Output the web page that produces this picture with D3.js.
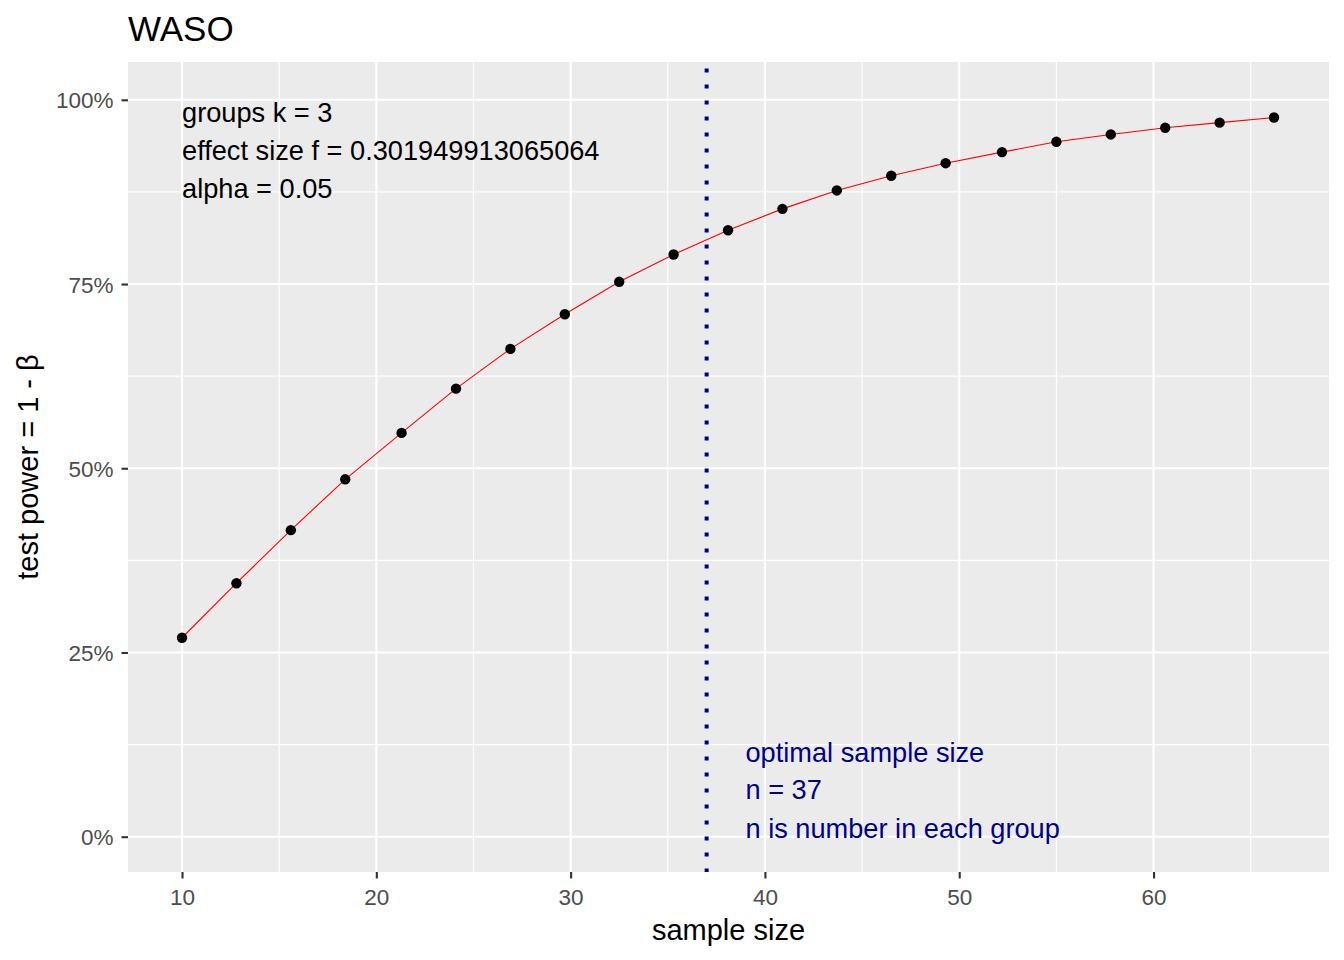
<!DOCTYPE html>
<html>
<head>
<meta charset="utf-8" />
<title>WASO power curve</title>
<script src="https://d3js.org/d3.v7.min.js" charset="utf-8"></script>
<style>
    body { margin: 0; background: #fff; font-family: "Liberation Sans", Arial, sans-serif; }
    .grid-major line { stroke: #fff; stroke-width: 2.1; }
    .grid-minor line { stroke: #fff; stroke-width: 1.1; }
    .axis path { display: none; }
    .axis line { stroke: #333; stroke-width: 2.1; }
    .axis text { fill: #4d4d4d; font-size: 22.5px; font-family: "Liberation Sans", Arial, sans-serif; }
</style>
</head>
<body>
<div id="graphic"></div>
<script>
    // sample size per group
    var sampleSize = [10, 12.8, 15.6, 18.4, 21.3, 24.1, 26.9, 29.7, 32.5, 35.3, 38.1,
                      40.9, 43.7, 46.5, 49.3, 52.2, 55.0, 57.8, 60.6, 63.4, 66.2];
    // power (1 - beta)
    var power = [0.270, 0.344, 0.416, 0.485, 0.548, 0.608, 0.662, 0.709, 0.753, 0.790, 0.823,
                 0.852, 0.877, 0.897, 0.914, 0.929, 0.943, 0.953, 0.962, 0.969, 0.976];
    var xTicks = [10, 20, 30, 40, 50, 60];
    var xMinor = [15, 25, 35, 45, 55, 65];
    var yTicks = [0, 0.25, 0.5, 0.75, 1];
    var yMinor = [0.125, 0.375, 0.625, 0.875];
    var optimalN = 37;
    var infoLines = ["groups k = 3", "effect size f = 0.301949913065064", "alpha = 0.05"];
    var infoY = [0.983, 0.932, 0.880];
    var optLines = ["optimal sample size", "n = 37", "n is number in each group"];
    var optY = [0.115, 0.064, 0.011];

    var data = sampleSize.map(function (d, i) { return { n: d, p: power[i] }; });

    var W = 1344, H = 960;
    var margin = { top: 62, right: 15, bottom: 88, left: 128 };
    var width = W - margin.left - margin.right,
        height = H - margin.top - margin.bottom;

    var svg = d3.select("#graphic").append("svg")
        .attr("width", W)
        .attr("height", H);

    var g = svg.append("g")
        .attr("transform", "translate(" + margin.left + "," + margin.top + ")");

    var x = d3.scaleLinear().domain([7.22, 69.03]).range([0, width]);
    var y = d3.scaleLinear().domain([-0.0479, 1.0513]).range([height, 0]);

    // panel
    g.append("rect").attr("width", width).attr("height", height).attr("fill", "#ebebeb");

    var gm = g.append("g").attr("class", "grid-minor");
    gm.selectAll(".vx").data(xMinor).enter().append("line")
        .attr("x1", x).attr("x2", x).attr("y1", 0).attr("y2", height);
    gm.selectAll(".hy").data(yMinor).enter().append("line")
        .attr("y1", y).attr("y2", y).attr("x1", 0).attr("x2", width);

    var gM = g.append("g").attr("class", "grid-major");
    gM.selectAll(".vx").data(xTicks).enter().append("line")
        .attr("x1", x).attr("x2", x).attr("y1", 0).attr("y2", height);
    gM.selectAll(".hy").data(yTicks).enter().append("line")
        .attr("y1", y).attr("y2", y).attr("x1", 0).attr("x2", width);

    // axes
    g.append("g").attr("class", "axis")
        .attr("transform", "translate(0," + height + ")")
        .call(d3.axisBottom(x).tickValues(xTicks).tickSize(6.5).tickPadding(5))
        .selectAll("text").attr("dy", "0.95em");

    g.append("g").attr("class", "axis")
        .call(d3.axisLeft(y).tickValues(yTicks).tickSize(6.5).tickPadding(8)
            .tickFormat(d3.format(".0%")))
        .selectAll("text").attr("dy", "0.36em");

    // curve
    var line = d3.line().x(function (d) { return x(d.n); }).y(function (d) { return y(d.p); });
    g.append("path").datum(data)
        .attr("d", line)
        .attr("fill", "none")
        .attr("stroke", "red")
        .attr("stroke-width", 1.1);

    g.selectAll(".pt").data(data).enter().append("circle")
        .attr("cx", function (d) { return x(d.n); })
        .attr("cy", function (d) { return y(d.p); })
        .attr("r", 5.2)
        .attr("fill", "#000");

    // optimal n line
    g.append("line")
        .attr("x1", x(optimalN)).attr("x2", x(optimalN))
        .attr("y1", 6.5).attr("y2", height)
        .attr("stroke", "#00008b")
        .attr("stroke-width", 4)
        .attr("stroke-dasharray", "4,12");

    // annotations
    g.selectAll(".info").data(infoLines).enter().append("text")
        .attr("x", x(10))
        .attr("y", function (d, i) { return y(infoY[i]); })
        .attr("dy", "0.36em")
        .style("font-size", "27.2px")
        .attr("fill", "#000")
        .text(function (d) { return d; });

    g.selectAll(".opt").data(optLines).enter().append("text")
        .attr("x", x(39))
        .attr("y", function (d, i) { return y(optY[i]); })
        .attr("dy", "0.36em")
        .style("font-size", "27.2px")
        .attr("fill", "#00008b")
        .text(function (d) { return d; });

    // titles
    svg.append("text")
        .attr("x", margin.left)
        .attr("y", 41)
        .style("font-size", "35px")
        .text("WASO");

    svg.append("text")
        .attr("x", margin.left + width / 2)
        .attr("y", 940)
        .attr("text-anchor", "middle")
        .style("font-size", "29px")
        .text("sample size");

    svg.append("text")
        .attr("transform", "translate(38," + (margin.top + height / 2) + ") rotate(-90)")
        .attr("text-anchor", "middle")
        .style("font-size", "29px")
        .text("test power = 1 - β");
</script>
</body>
</html>
